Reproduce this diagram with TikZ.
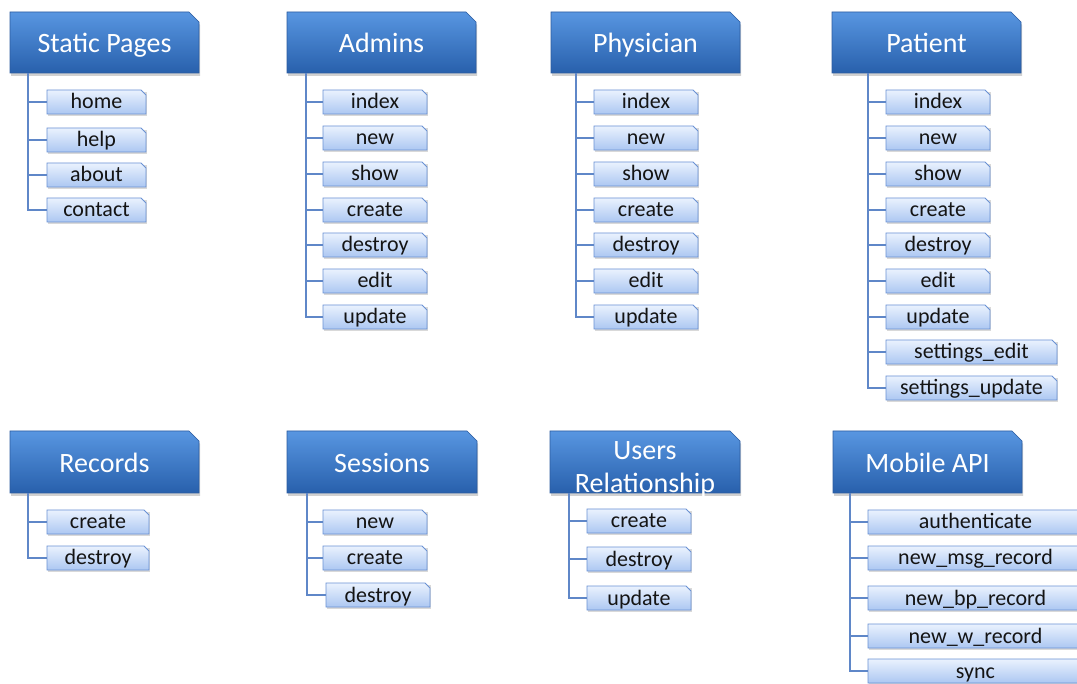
\documentclass[tikz,border=0pt]{standalone}
\usepackage{fontspec}
\setmainfont{Carlito}
\definecolor{hdrtop}{RGB}{88,150,225}
\definecolor{hdrbot}{RGB}{40,96,172}
\definecolor{hdredge}{RGB}{44,92,160}
\definecolor{leaftop}{RGB}{234,242,254}
\definecolor{leafbot}{RGB}{172,199,242}
\definecolor{leafedge}{RGB}{105,145,212}
\definecolor{connc}{RGB}{95,135,200}
\tikzset{
  hdrfill/.style={top color=hdrtop, bottom color=hdrbot, draw=hdredge, line width=0.6pt},
  hdrshadow/.style={fill=black, opacity=0.18},
  hdrtext/.style={inner sep=0pt, text=white, font=\fontsize{28}{33}\selectfont, align=center, text height=27pt, text depth=6pt},
  leaffill/.style={top color=leaftop, bottom color=leafbot, draw=leafedge, line width=0.8pt},
  leafshadow/.style={fill=black, opacity=0.15},
  leaftext/.style={inner sep=0pt, text=black!92, font=\fontsize{22}{24}\selectfont, text height=18pt, text depth=4pt},
  conn/.style={draw=connc, line width=1.4pt},
}
% name, x1, y1, x2, y2, text, extra node options
\newcommand\hdrbox[7]{%
  \fill[hdrshadow] (#2+1,#3+3) -- (#4-9,#3+3) -- (#4+1,#3+13) -- (#4+1,#5+3) -- (#2+1,#5+3) -- cycle;
  \shadedraw[hdrfill] (#2,#3) -- (#4-10,#3) -- (#4,#3+10) -- (#4,#5) -- (#2,#5) -- cycle;
  \node[hdrtext, minimum width={(#4-#2)*1pt}, minimum height={(#5-#3)*1pt}, #7] (#1) at ({(#2+#4)/2},{(#3+#5)/2}) {#6};
}
% name, x1, x2, yc, text
\newcommand\leafbox[5]{%
  \fill[leafshadow] (#2+1,#4-10) -- (#3+1,#4-10) -- (#3+1,#4+14) -- (#2+1,#4+14) -- cycle;
  \shadedraw[leaffill] (#2,#4-12) -- (#3-5,#4-12) -- (#3,#4-7) -- (#3,#4+12) -- (#2,#4+12) -- cycle;
  \node[leaftext, minimum width={(#3-#2)*1pt}, minimum height=24pt] (#1) at ({(#2+#3)/2},#4) {#5};
}
\begin{document}
\begin{tikzpicture}[x=1pt, y=-1pt]
\clip (0,0) rectangle (1077,684);
\fill[white] (0,0) rectangle (1077,684);

% ---------- top row ----------
\hdrbox{sp}{10}{12}{199}{73}{Static Pages}{}
\leafbox{sph}{47}{146}{102}{home}
\leafbox{spe}{47}{146}{140}{help}
\leafbox{spa}{47}{146}{175}{about}
\leafbox{spc}{47}{146}{210}{contact}
\foreach \c in {sph,spe,spa,spc} \draw[conn] ([xshift=18pt]sp.south west) |- (\c.west);

\hdrbox{ad}{287}{12}{476}{73}{Admins}{}
\leafbox{ad1}{323}{427}{102}{index}
\leafbox{ad2}{323}{427}{138}{new}
\leafbox{ad3}{323}{427}{174}{show}
\leafbox{ad4}{323}{427}{210}{create}
\leafbox{ad5}{323}{427}{245}{destroy}
\leafbox{ad6}{323}{427}{281}{edit}
\leafbox{ad7}{323}{427}{317}{update}
\foreach \c in {ad1,ad2,ad3,ad4,ad5,ad6,ad7} \draw[conn] ([xshift=19pt]ad.south west) |- (\c.west);

\hdrbox{ph}{551}{12}{740}{73}{Physician}{}
\leafbox{ph1}{594}{698}{102}{index}
\leafbox{ph2}{594}{698}{138}{new}
\leafbox{ph3}{594}{698}{174}{show}
\leafbox{ph4}{594}{698}{210}{create}
\leafbox{ph5}{594}{698}{245}{destroy}
\leafbox{ph6}{594}{698}{281}{edit}
\leafbox{ph7}{594}{698}{317}{update}
\foreach \c in {ph1,ph2,ph3,ph4,ph5,ph6,ph7} \draw[conn] ([xshift=25pt]ph.south west) |- (\c.west);

\hdrbox{pa}{832}{12}{1021}{73}{Patient}{}
\leafbox{pa1}{886}{990}{102}{index}
\leafbox{pa2}{886}{990}{138}{new}
\leafbox{pa3}{886}{990}{174}{show}
\leafbox{pa4}{886}{990}{210}{create}
\leafbox{pa5}{886}{990}{245}{destroy}
\leafbox{pa6}{886}{990}{281}{edit}
\leafbox{pa7}{886}{990}{317}{update}
\leafbox{pa8}{886}{1057}{352}{settings\_edit}
\leafbox{pa9}{886}{1057}{388}{settings\_update}
\foreach \c in {pa1,pa2,pa3,pa4,pa5,pa6,pa7,pa8,pa9} \draw[conn] ([xshift=36pt]pa.south west) |- (\c.west);

% ---------- bottom row ----------
\hdrbox{rc}{10}{431}{199}{493}{Records}{}
\leafbox{rc1}{47}{149}{522}{create}
\leafbox{rc2}{47}{149}{558}{destroy}
\foreach \c in {rc1,rc2} \draw[conn] ([xshift=18pt]rc.south west) |- (\c.west);

\hdrbox{se}{287}{431}{477}{493}{Sessions}{}
\leafbox{se1}{323}{427}{522}{new}
\leafbox{se2}{323}{427}{558}{create}
\leafbox{se3}{326}{430}{595}{destroy}
\foreach \c in {se1,se2,se3} \draw[conn] ([xshift=20pt]se.south west) |- (\c.west);

\hdrbox{ur}{550}{431}{740}{493}{Users\\Relationship}{text height=, text depth=, yshift=-7pt}
\leafbox{ur1}{587}{691}{521}{create}
\leafbox{ur2}{587}{691}{559}{destroy}
\leafbox{ur3}{587}{691}{598}{update}
\foreach \c in {ur1,ur2,ur3} \draw[conn] ([xshift=19pt,yshift=7pt]ur.south west) |- (\c.west);

\hdrbox{mb}{833}{431}{1022}{493}{Mobile API}{}
\leafbox{mb1}{868}{1083}{522}{authenticate}
\leafbox{mb2}{868}{1083}{558}{new\_msg\_record}
\leafbox{mb3}{868}{1083}{598}{new\_bp\_record}
\leafbox{mb4}{868}{1083}{636}{new\_w\_record}
\leafbox{mb5}{868}{1083}{671}{sync}
\foreach \c in {mb1,mb2,mb3,mb4,mb5} \draw[conn] ([xshift=17pt]mb.south west) |- (\c.west);
\end{tikzpicture}
\end{document}
